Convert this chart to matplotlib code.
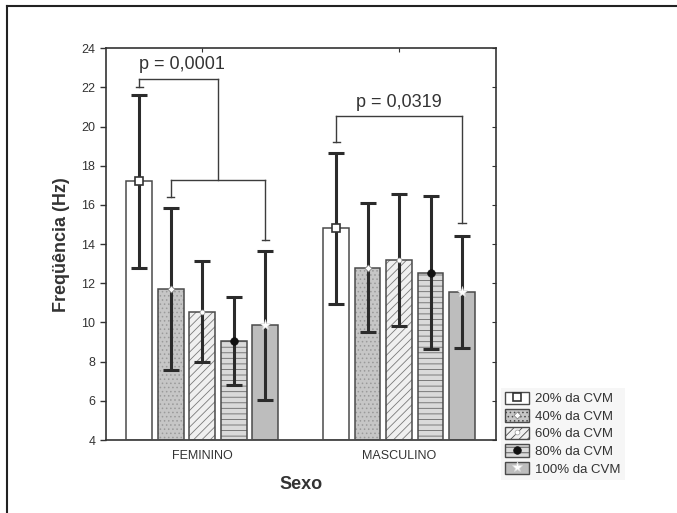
import matplotlib
matplotlib.use("Agg")
import matplotlib.pyplot as plt
from matplotlib.lines import Line2D
from matplotlib.patches import Patch
import numpy as np

plt.rcParams["font.family"] = ["Liberation Sans", "DejaVu Sans"]
plt.rcParams["hatch.linewidth"] = 0.6

# data
groups = ["FEMININO", "MASCULINO"]
series = ["20% da CVM", "40% da CVM", "60% da CVM", "80% da CVM", "100% da CVM"]
means = {
    "FEMININO": [17.2, 11.7, 10.55, 9.05, 9.85],
    "MASCULINO": [14.8, 12.8, 13.2, 12.55, 11.55],
}
errs = {
    "FEMININO": [4.4, 4.15, 2.57, 2.25, 3.8],
    "MASCULINO": [3.85, 3.3, 3.37, 3.9, 2.85],
}
# significance brackets (y levels in Hz)
p_labels = ["p = 0,0001", "p = 0,0319"]
fem_top = [22.0, 22.42, 17.3]       # left arm end, top bar, drop to lower bracket
fem_low = [16.4, 17.3, 14.2]        # left arm end, bar, right arm end
masc_br = [19.23, 20.56, 15.1]      # left arm end, bar, right arm end
p_text_y = [23.15, 21.25]

# styles
faces = ["white", "#c6c6c6", "#f0f0f0", "#dadada", "#bdbdbd"]
hatches = [None, "....", "////", "---", None]
hatch_cols = [None, "#9a9a9a", "#7a7a7a", "#6a6a6a", None]
mk = [
    dict(marker="s", ms=6, mfc="white", mec="#333333", mew=1.2),
    dict(marker="D", ms=3.5, mfc="white", mec="#888888", mew=0.6),
    dict(marker="o", ms=3.5, mfc="white", mec="#999999", mew=0.5),
    dict(marker="o", ms=5.5, mfc="#111111", mec="#111111", mew=0.5),
    dict(marker="*", ms=8, mfc="white", mec="#dddddd", mew=0.5),
]
dark = "#2b2b2b"
edge = "#4a4a4a"

fig = plt.figure(figsize=(6.77, 5.13), dpi=100)
ax = fig.add_axes([0.1563, 0.1423, 0.577, 0.7635])

step, width = 0.16, 0.13
xg = np.arange(len(groups))
for i, s in enumerate(series):
    xs = xg + (i - 2) * step
    ys = [means[g][i] for g in groups]
    es = [errs[g][i] for g in groups]
    if hatches[i]:
        ax.bar(xs, [y - 4 for y in ys], width, bottom=4, color=faces[i],
               edgecolor=hatch_cols[i], linewidth=0, hatch=hatches[i], zorder=2)
    else:
        ax.bar(xs, [y - 4 for y in ys], width, bottom=4, color=faces[i],
               linewidth=0, zorder=2)
    ax.bar(xs, [y - 4 for y in ys], width, bottom=4, fill=False,
           edgecolor=edge, linewidth=1.1, zorder=3)
    ax.errorbar(xs, ys, yerr=es, fmt="none", ecolor=dark, elinewidth=2.2,
                capsize=5.5, capthick=2.2, zorder=4)
    ax.plot(xs, ys, linestyle="none", zorder=5, **mk[i])

# brackets
bk = dict(color="#3c3c3c", lw=1.0, zorder=6)
cap = 0.018


def arm(x, y0, y1):
    ax.plot([x, x], [y0, y1], **bk)
    ax.plot([x - cap, x + cap], [y1, y1], **bk)


xf20, xf40, xf100 = -2 * step, -1 * step, 2 * step
xmid = 0.08
ax.plot([xf20, xmid], [fem_top[1], fem_top[1]], **bk)
arm(xf20, fem_top[1], fem_top[0])
ax.plot([xmid, xmid], [fem_top[1], fem_top[2]], **bk)
ax.plot([xf40, xf100], [fem_low[1], fem_low[1]], **bk)
arm(xf40, fem_low[1], fem_low[0])
arm(xf100, fem_low[1], fem_low[2])

xm20, xm100 = 1 - 2 * step, 1 + 2 * step
ax.plot([xm20, xm100], [masc_br[1], masc_br[1]], **bk)
arm(xm20, masc_br[1], masc_br[0])
arm(xm100, masc_br[1], masc_br[2])

ax.text(-0.105, p_text_y[0], p_labels[0], ha="center", va="center",
        fontsize=13, color="#333333")
ax.text(1.0, p_text_y[1], p_labels[1], ha="center", va="center",
        fontsize=13, color="#333333")

ax.set_xlim(-0.49, 1.495)
ax.set_ylim(4, 24)
ax.set_yticks(range(4, 25, 2))
ax.set_xticks(xg)
ax.set_xticklabels(groups)
ax.tick_params(axis="x", length=0, labelsize=9, colors="#333333", pad=7)
ax.tick_params(axis="y", direction="out", length=4, labelsize=9,
               colors="#333333", width=1)
for sp in ax.spines.values():
    sp.set_color("#333333")
    sp.set_linewidth(1.2)

sec_r = ax.secondary_yaxis("right")
sec_r.set_yticks(range(4, 25, 2))
sec_r.tick_params(direction="in", length=3, labelright=False, colors="#333333")
sec_r.spines["right"].set_visible(False)
sec_t = ax.secondary_xaxis("top")
sec_t.set_xticks(xg)
sec_t.tick_params(direction="in", length=3, labeltop=False, colors="#333333")
sec_t.spines["top"].set_visible(False)

ax.set_xlabel("Sexo", fontsize=13, fontweight="bold", color="#333333", labelpad=10)
ax.set_ylabel("Freqüência (Hz)", fontsize=13, fontweight="bold", color="#333333",
              labelpad=8)

# legend
handles = []
for i in range(len(series)):
    if hatches[i]:
        p = Patch(facecolor=faces[i], edgecolor=edge, hatch=hatches[i])
    else:
        p = Patch(facecolor=faces[i], edgecolor=edge)
    m = Line2D([], [], linestyle="none", **mk[i])
    handles.append((p, m))
leg = fig.legend(handles, series, loc="upper left", bbox_to_anchor=(0.731, 0.257),
                 fontsize=9.5, frameon=True, fancybox=False, facecolor="#f4f4f4",
                 edgecolor="none", handlelength=1.8, handleheight=1.05,
                 labelspacing=0.3, handletextpad=0.45, borderpad=0.3)
for t in leg.get_texts():
    t.set_color("#333333")

# outer frame (top and left)
fig.add_artist(Line2D([7 / 677, 7 / 677], [0, 1 - 6 / 513], color="#222222",
                      lw=1.5, transform=fig.transFigure))
fig.add_artist(Line2D([7 / 677, 1], [1 - 6 / 513, 1 - 6 / 513], color="#222222",
                      lw=1.5, transform=fig.transFigure))

fig.savefig("out.png", dpi=100)
